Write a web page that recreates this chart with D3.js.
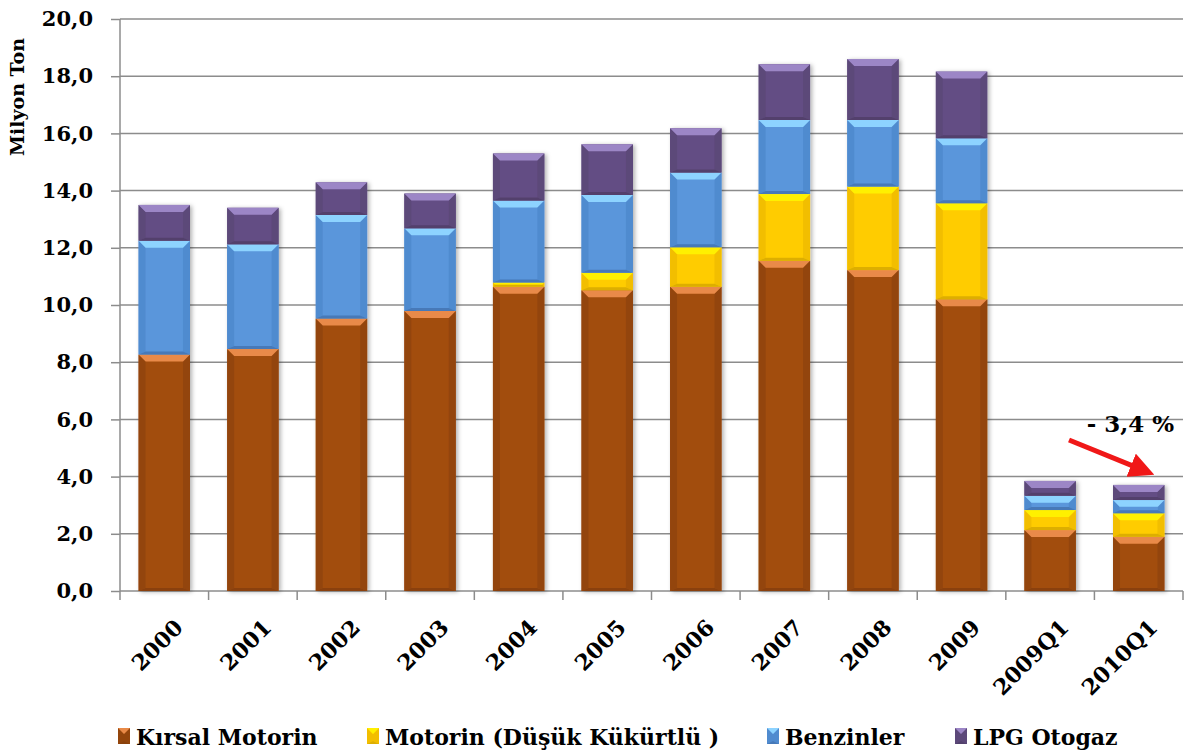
<!DOCTYPE html>
<html>
<head>
<meta charset="utf-8">
<script src="https://cdn.jsdelivr.net/npm/d3@7"></script>
<style>
  body { margin: 0; background: #fff; }
  text { font-family: "DejaVu Serif", serif; font-weight: bold; fill: #000; }
</style>
</head>
<body>
<div id="chart_area"></div>
<script>

// Data (milyon ton)
var years = ["2000", "2001", "2002", "2003", "2004", "2005", "2006", "2007", "2008", "2009", "2009Q1", "2010Q1"];
var kirsal  = [8.27, 8.46, 9.53, 9.79, 10.64, 10.52, 10.64, 11.55, 11.22, 10.20, 2.13, 1.90];
var motorin = [0, 0, 0, 0, 0.15, 0.61, 1.38, 2.33, 2.92, 3.36, 0.70, 0.82];
var benzin  = [3.98, 3.66, 3.62, 2.89, 2.86, 2.72, 2.61, 2.59, 2.33, 2.27, 0.50, 0.46];
var lpg     = [1.25, 1.28, 1.14, 1.22, 1.65, 1.77, 1.55, 1.95, 2.13, 2.33, 0.52, 0.53];
var series_names = ["Kırsal Motorin", "Motorin (Düşük Kükürtlü )", "Benzinler", "LPG Otogaz"];
var y_ticks = [0, 2, 4, 6, 8, 10, 12, 14, 16, 18, 20];
var note_text = "- 3,4 %";

// colours: base, top bevel, sides, bottom
var palette = [
	{base: "#A24E0F", top: "#E98A48", side: "#93450C", bottom: "#8A410B"},
	{base: "#FFCC00", top: "#FFF000", side: "#F2BE00", bottom: "#DDAE00"},
	{base: "#5A96DB", top: "#8DD3FF", side: "#508BCF", bottom: "#4679B8"},
	{base: "#644E84", top: "#9C86C6", side: "#5C4879", bottom: "#52416C"}
];

var frame_width = 1187;
var frame_height = 751;
var plot = {left: 120, right: 1183, top: 19, bottom: 591};

var frame = d3.select("#chart_area").append("svg")
	.attr("width", frame_width)
	.attr("height", frame_height);

var defs = frame.append("defs");
defs.append("filter").attr("id", "shadow")
	.attr("x", "-20%").attr("y", "-5%").attr("width", "140%").attr("height", "110%")
	.append("feDropShadow")
	.attr("dx", 2).attr("dy", 1).attr("stdDeviation", 2)
	.attr("flood-color", "#000").attr("flood-opacity", 0.3);

var xScale = d3.scaleBand()
	.domain(years)
	.range([plot.left, plot.right])
	.paddingInner(0.42)
	.paddingOuter(0.21);

var yScale = d3.scaleLinear()
	.domain([0, 20])
	.range([plot.bottom, plot.top]);

// gridlines
frame.append("g")
	.selectAll("line")
	.data(y_ticks.slice(1))
	.enter().append("line")
	.attr("x1", plot.left).attr("x2", plot.right)
	.attr("y1", function (d) { return yScale(d); })
	.attr("y2", function (d) { return yScale(d); })
	.attr("stroke", "#8c8c8c")
	.attr("stroke-width", 1.5);

// y axis
var yAxis = d3.axisLeft(yScale)
	.tickValues(y_ticks)
	.tickSize(9)
	.tickPadding(18)
	.tickFormat(function (d) { return d3.format(".1f")(d).replace(".", ","); });

var gy = frame.append("g")
	.attr("transform", "translate(" + plot.left + ",0)")
	.call(yAxis);
gy.select(".domain").attr("stroke", "#8c8c8c").attr("stroke-width", 1.5)
	.attr("d", "M0," + plot.top + "V" + (plot.bottom + 9));
gy.selectAll(".tick line").attr("stroke", "#8c8c8c").attr("stroke-width", 1.5);
gy.selectAll(".tick text")
	.attr("font-family", "DejaVu Serif").attr("font-weight", "bold")
	.attr("font-size", 21).attr("fill", "#000");

// x axis line and ticks between categories
var gx = frame.append("g");
gx.append("line")
	.attr("x1", plot.left).attr("x2", plot.right)
	.attr("y1", plot.bottom).attr("y2", plot.bottom)
	.attr("stroke", "#8c8c8c").attr("stroke-width", 1.5);
gx.selectAll(".xtick")
	.data(years)
	.enter().append("line")
	.attr("class", "xtick")
	.attr("x1", function (d) { return xScale(d) + xScale.bandwidth() + xScale.step() * xScale.paddingInner() / 2; })
	.attr("x2", function (d) { return xScale(d) + xScale.bandwidth() + xScale.step() * xScale.paddingInner() / 2; })
	.attr("y1", plot.bottom).attr("y2", plot.bottom + 9)
	.attr("stroke", "#8c8c8c").attr("stroke-width", 1.5);

gx.selectAll(".xlabel")
	.data(years)
	.enter().append("text")
	.attr("class", "xlabel")
	.attr("text-anchor", "end")
	.attr("font-size", 22)
	.attr("transform", function (d) {
		var cx = xScale(d) + xScale.bandwidth() / 2 + 20;
		return "translate(" + cx + "," + (plot.bottom + 38) + ") rotate(-45)";
	})
	.text(function (d) { return d; });

// y title
frame.append("text")
	.attr("transform", "translate(24,97) rotate(-90)")
	.attr("text-anchor", "middle")
	.attr("font-size", 19)
	.text("Milyon Ton");

// bevelled box, like the office chart style
function bevelBox(g, x, y, w, h, c) {
	var b = Math.min(7, h / 2, w / 2);
	var bb = Math.min(3, h / 2);
	g.append("rect").attr("x", x).attr("y", y).attr("width", w).attr("height", h).attr("fill", c.base);
	g.append("polygon").attr("fill", c.side)
		.attr("points", [[x, y], [x + b, y + b], [x + b, y + h - bb], [x, y + h]].join(" "));
	g.append("polygon").attr("fill", c.side)
		.attr("points", [[x + w, y], [x + w - b, y + b], [x + w - b, y + h - bb], [x + w, y + h]].join(" "));
	g.append("polygon").attr("fill", c.bottom)
		.attr("points", [[x, y + h], [x + b, y + h - bb], [x + w - b, y + h - bb], [x + w, y + h]].join(" "));
	g.append("polygon").attr("fill", c.top)
		.attr("points", [[x, y], [x + w, y], [x + w - b, y + b], [x + b, y + b]].join(" "));
}

// stack the series
var table = years.map(function (yr, i) {
	return {year: yr, k: kirsal[i], m: motorin[i], b: benzin[i], l: lpg[i]};
});
var stacked = d3.stack().keys(["k", "m", "b", "l"])(table);

var bars = frame.append("g");
years.forEach(function (yr, i) {
	var bar = bars.append("g").attr("filter", "url(#shadow)");
	stacked.forEach(function (layer, s) {
		var d = layer[i];
		if (d[1] - d[0] <= 0) return;
		var y0 = yScale(d[1]);
		var h = yScale(d[0]) - y0;
		bevelBox(bar, xScale(yr), y0, xScale.bandwidth(), h, palette[s]);
	});
});

// annotation with red arrow
var last = years[years.length - 1];
var lastTop = yScale(kirsal[11] + motorin[11] + benzin[11] + lpg[11]);
frame.append("text")
	.attr("x", xScale(last) + xScale.bandwidth() / 2 - 52)
	.attr("y", 432)
	.attr("font-size", 23)
	.text(note_text);

defs.append("marker").attr("id", "arrowhead")
	.attr("viewBox", "0 0 10 10").attr("refX", 6).attr("refY", 5)
	.attr("markerWidth", 5).attr("markerHeight", 5).attr("orient", "auto")
	.append("path").attr("d", "M0,0 L10,5 L0,10 z").attr("fill", "#f01818");

frame.append("line")
	.attr("x1", xScale(last) - 44).attr("y1", 440)
	.attr("x2", xScale(last) + 32).attr("y2", lastTop - 14)
	.attr("stroke", "#f01818").attr("stroke-width", 5)
	.attr("marker-end", "url(#arrowhead)");

// legend
var legend_x = [118, 367, 767, 955];
var legend = frame.append("g").attr("transform", "translate(0,737)");
series_names.forEach(function (name, s) {
	var item = legend.append("g").attr("transform", "translate(" + legend_x[s] + ",0)");
	bevelBox(item, 0, -9, 12, 16, palette[s]);
	item.append("text")
		.attr("x", 18).attr("y", 8)
		.attr("font-size", 22)
		.text(name);
});

</script>
</body>
</html>
